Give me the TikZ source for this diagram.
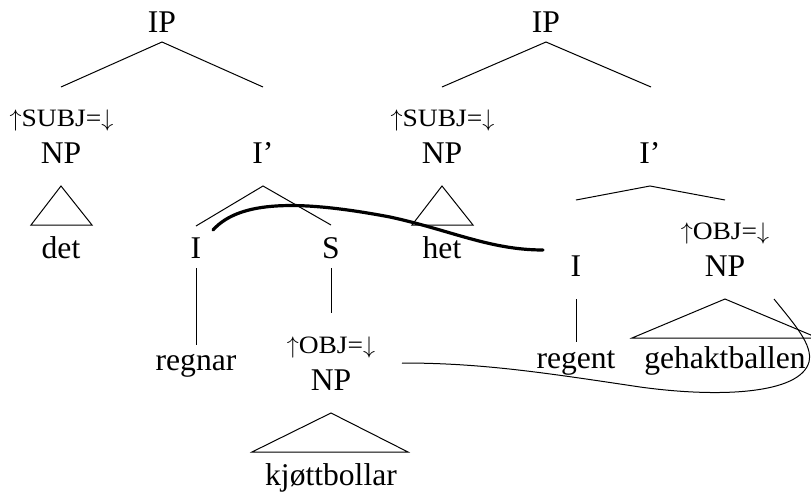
\documentclass[tikz,border=0pt]{standalone}
\usepackage{fontspec}
\setmainfont{Liberation Serif}
\newfontfamily\annfont[FakeStretch=1.1]{Liberation Serif}
\newcommand{\fup}{\ensuremath{\uparrow}}
\newcommand{\fdown}{\ensuremath{\downarrow}}
\begin{document}
\begin{tikzpicture}[x=0.5pt,y=-0.5pt,
  cat/.style={anchor=base,inner sep=0pt,font=\fontsize{15.8}{18}\selectfont},
  ann/.style={anchor=base,inner sep=0pt,font=\annfont\fontsize{12.5}{14}\selectfont},
  br/.style={line width=0.5pt},
  link/.style={line width=1.6pt,line cap=round},
  thin/.style={line width=0.5pt}]
\useasboundingbox (0,0) rectangle (811,493);
\begin{scope}
\clip (0,0) rectangle (811,493);
% ---------- left tree ----------
\node[cat] (ipA) at (162,32) {IP};
\node[ann] (subjA) at (61.5,126) {\fup SUBJ=\fdown};
\node[cat] (npA) at (61,163) {NP};
\node[cat] (ibA) at (263,163) {I’};
\node[cat] (detA) at (61,258) {det};
\node[cat] (iA) at (196,258) {I};
\node[cat] (sA) at (331,258) {S};
\node[cat] (regnar) at (196,370) {regnar};
\node[ann] (objA) at (331,353) {\fup OBJ=\fdown};
\node[cat] (npB) at (331,390) {NP};
\node[cat] (kjott) at (331,485) {kjøttbollar};
% lines
\coordinate (ipAt) at (162,42);
\coordinate (ipAl) at (61,87);
\coordinate (ipAr) at (263,87);
\draw[br] (ipAl) -- (ipAt) -- (ipAr);
\coordinate (npAt) at (61,186);
\coordinate (npAl) at (31,225);
\coordinate (npAr) at (92,225);
\draw[br] (npAt) -- (npAl) -- (npAr) -- cycle;
\coordinate (ibAt) at (263,186);
\coordinate (ibAl) at (196,226);
\coordinate (ibAr) at (331,225);
\draw[br] (ibAl) -- (ibAt) -- (ibAr);
\coordinate (iAb) at (196,268);
\coordinate (regnarT) at (196,345);
\draw[br] (iAb) -- (regnarT);
\coordinate (sAb) at (331,268);
\coordinate (objAt) at (331,313);
\draw[br] (sAb) -- (objAt);
\coordinate (npBt) at (331,413);
\coordinate (npBl) at (252,452);
\coordinate (npBr) at (408,452);
\draw[br] (npBt) -- (npBl) -- (npBr) -- cycle;
% ---------- right tree ----------
\node[cat] (ipB) at (546,32) {IP};
\node[ann] (subjB) at (442.5,126) {\fup SUBJ=\fdown};
\node[cat] (npC) at (442,163) {NP};
\node[cat] (ibB) at (650,163) {I’};
\node[cat] (het) at (442,258) {het};
\node[ann] (objB) at (725,239) {\fup OBJ=\fdown};
\node[cat] (iB) at (576,276) {I};
\node[cat] (npD) at (725,276) {NP};
\node[cat] (regent) at (576,368) {regent};
\node[cat] (gehakt) at (725,368) {gehaktballen};
\coordinate (ipBt) at (546,42);
\coordinate (ipBl) at (442,87);
\coordinate (ipBr) at (651,87);
\draw[br] (ipBl) -- (ipBt) -- (ipBr);
\coordinate (npCt) at (442,186);
\coordinate (npCl) at (412,225);
\coordinate (npCr) at (473,225);
\draw[br] (npCt) -- (npCl) -- (npCr) -- cycle;
\coordinate (ibBt) at (650,186);
\coordinate (ibBl) at (576,200);
\coordinate (ibBr) at (725,200);
\draw[br] (ibBl) -- (ibBt) -- (ibBr);
\coordinate (iBb) at (576,299);
\coordinate (regentT) at (576,342);
\draw[br] (iBb) -- (regentT);
\coordinate (npDt) at (725,299);
\coordinate (npDl) at (632,338);
\coordinate (npDr) at (818,338);
\draw[br] (npDt) -- (npDl) -- (npDr) -- cycle;
% ---------- curves ----------
\coordinate (thickS) at (213,230);
\coordinate (thickM) at (390,217);
\coordinate (thickE) at (543,250);
\draw[link] (thickS) .. controls (240,200) and (300,200) .. (thickM)
  .. controls (450,230) and (490,250) .. (thickE);
\coordinate (thinS) at (402,363);
\coordinate (thinM) at (640,387);
\coordinate (thinR) at (809,362);
\coordinate (thinE) at (774,299);
\draw[thin] (thinS) .. controls (480,363) and (540,372) .. (thinM)
  .. controls (720,398) and (800,394) .. (thinR)
  .. controls (813,345) and (795,325) .. (thinE);
\end{scope}
\end{tikzpicture}
\end{document}
